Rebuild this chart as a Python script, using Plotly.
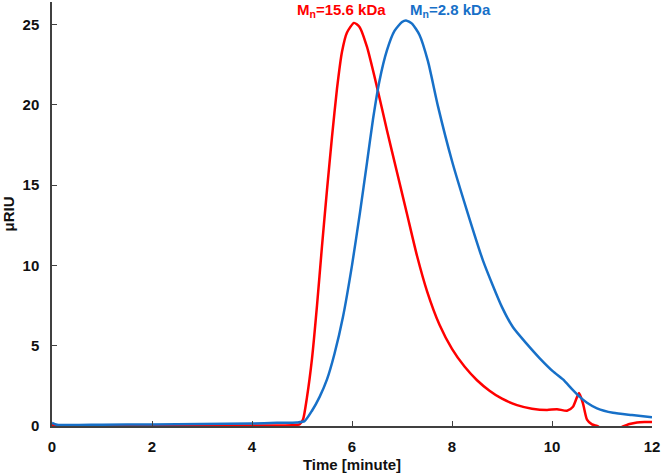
import plotly.graph_objects as go

# Red trace (Mn = 15.6 kDa)
red_t = [0, 1, 2, 3, 4, 4.8, 4.95, 5.02, 5.1, 5.2, 5.3, 5.4, 5.5, 5.6, 5.7, 5.8, 5.9,
         6.04, 6.15, 6.3, 6.5, 6.7, 6.9, 7.1, 7.3, 7.5, 7.75, 8.0, 8.25, 8.5, 8.75,
         9.0, 9.3, 9.6, 9.9, 10.1, 10.3, 10.42, 10.54, 10.62, 10.7, 10.8, 10.9,
         11.0, 11.2, 11.4, 11.55, 11.7, 11.85, 12]
red_v = [0.05, 0.05, 0.05, 0.03, 0.03, 0.05, 0.1, 0.4, 1.8, 4.2, 7.5, 11.2, 14.7,
         18.0, 21.0, 23.3, 24.5, 25.1, 24.85, 23.6, 21.1, 18.4, 15.8, 13.2, 10.6,
         8.4, 6.3, 4.8, 3.7, 2.85, 2.2, 1.7, 1.3, 1.08, 1.0, 1.05, 0.95, 1.2,
         2.05, 1.4, 0.4, 0.1, 0.0, -0.15, -0.3, -0.05, 0.12, 0.22, 0.25, 0.25]

# Blue trace (Mn = 2.8 kDa)
blue_t = [0, 0.1, 1, 2, 3, 4, 4.5, 4.9, 5.05, 5.2, 5.35, 5.5, 5.65, 5.82, 6.0, 6.16,
          6.3, 6.42, 6.55, 6.7, 6.85, 7.0, 7.08, 7.2, 7.35, 7.52, 7.72, 8.0, 8.3,
          8.62, 9.0, 9.22, 9.5, 9.76, 10.02, 10.22, 10.4, 10.56, 10.7, 10.9, 11.22,
          11.6, 12]
blue_v = [0.2, 0.08, 0.08, 0.1, 0.12, 0.15, 0.2, 0.22, 0.3, 0.95, 1.8, 2.9, 4.5, 6.8,
          10.0, 13.3, 16.4, 19.1, 21.5, 23.4, 24.6, 25.15, 25.25, 25.05, 24.35, 22.7,
          19.9, 16.5, 13.4, 10.3, 7.4, 6.15, 5.1, 4.2, 3.4, 2.9, 2.3, 1.8, 1.45, 1.1,
          0.82, 0.68, 0.55]

x_ticks = [0, 2, 4, 6, 8, 10, 12]
y_ticks = [0, 5, 10, 15, 20, 25]

RED = "#FF0000"
BLUE = "#1770C8"
AXIS = "#404040"
FONT = "Arial, Liberation Sans, sans-serif"

fig = go.Figure()
fig.add_trace(go.Scatter(x=red_t, y=red_v, mode="lines",
                         line=dict(color=RED, width=2.5, shape="spline", smoothing=0.6)))
fig.add_trace(go.Scatter(x=blue_t, y=blue_v, mode="lines",
                         line=dict(color=BLUE, width=2.5, shape="spline", smoothing=0.6)))

fig.add_annotation(x=5.78, y=25.87, xref="x", yref="y", showarrow=False,
                   text="M<sub>n</sub>=15.6 kDa", yanchor="middle",
                   font=dict(family=FONT, size=15, color=RED, weight="bold"))
fig.add_annotation(x=7.97, y=25.87, xref="x", yref="y", showarrow=False,
                   text="M<sub>n</sub>=2.8 kDa", yanchor="middle",
                   font=dict(family=FONT, size=15, color=BLUE, weight="bold"))

fig.update_layout(
    width=661, height=476,
    margin=dict(l=52, r=9, t=2, b=50),
    paper_bgcolor="white", plot_bgcolor="white",
    showlegend=False,
    font=dict(family=FONT, color="#111111"),
)
fig.update_xaxes(
    range=[0, 12], tickvals=x_ticks, ticks="inside", ticklen=5, tickwidth=1.2,
    tickcolor=AXIS, showline=True, linecolor=AXIS, linewidth=1.5,
    showgrid=False, zeroline=False,
    tickfont=dict(family=FONT, size=15, color="#111111", weight="bold"),
    ticklabelstandoff=6,
    title=dict(text="Time [minute]", standoff=6,
               font=dict(family=FONT, size=15, color="#111111", weight="bold")),
)
fig.update_yaxes(
    range=[0, 26.4], tickvals=y_ticks, ticks="inside", ticklen=5, tickwidth=1.2,
    tickcolor=AXIS, showline=True, linecolor=AXIS, linewidth=1.5,
    showgrid=False, zeroline=False,
    tickfont=dict(family=FONT, size=15, color="#111111", weight="bold"),
    ticklabelstandoff=8,
    title=dict(text="μRIU", standoff=6,
               font=dict(family=FONT, size=15, color="#111111", weight="bold")),
)

fig.write_html("out.html")
